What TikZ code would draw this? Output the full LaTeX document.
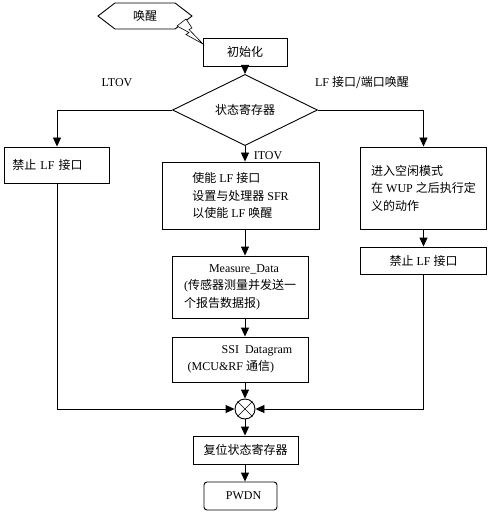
\documentclass[tikz,border=0pt]{standalone}
\usepackage{fontspec}
\setmainfont{Liberation Serif}
\newfontfamily\cjk{Noto Sans CJK SC}
\newcommand{\zh}[1]{{\cjk #1}}
\usetikzlibrary{arrows.meta,shapes.geometric,shapes.symbols}
\tikzset{
	box/.style={draw, line width=0.9pt, inner sep=0pt, align=left},
	arr/.style={-{Triangle[length=9pt,width=8pt]}, line width=0.9pt},
	ln/.style={line width=0.9pt}
}

\begin{document}
\begin{tikzpicture}[x=1pt, y=-1pt, every node/.style={font=\fontsize{12}{17.5}\selectfont}]
        \useasboundingbox (0,0) rectangle (491,513);

        \node[box, signal, signal to=west and east, signal pointer angle=75, minimum width=94pt, minimum height=26pt] (wake) at (145,16) {\zh{唤醒}};
        \node[box, minimum width=84pt, minimum height=28pt] (init) at (245,52) {\zh{初始化}};
        \draw[line width=0.6pt, fill=white] (177,26) -- (186,19) -- (192,28) -- (189,29.5) -- (203,44) -- (186,34.5) -- (189,32.5) -- cycle;

        \node[box, diamond, minimum width=145pt, minimum height=53pt] (state) at (245,110) {\zh{状态寄存器}};
        \node[inner sep=0pt] (ltov) at (117,83) {LTOV};
        \node[inner sep=0pt] (lfwake) at (362,83) {LF \zh{接口/端口唤醒}};

        \node[box, minimum width=105pt, minimum height=36pt, text width=89pt] (stopl) at (57,165) {\zh{禁止} LF \zh{接口}};
        \node[box, minimum width=157pt, minimum height=67pt] (enable) at (240.5,195.5) {\zh{使能} LF \zh{接口}\\\zh{设置与处理器} SFR\\\zh{以使能} LF \zh{唤醒}};
        \node[inner sep=0pt] (itov) at (268,156) {ITOV};
        \node[box, minimum width=136pt, minimum height=62pt] (meas) at (240,287) {\hspace*{25pt}Measure\_Data\\(\zh{传感器测量并发送一}\\\zh{个报告数据报})};
        \node[box, minimum width=136pt, minimum height=45pt] (ssi) at (240,359.5) {\hspace*{34pt}SSI\ \ Datagram\\(MCU\&RF \zh{通信})};

        \node[box, minimum width=126pt, minimum height=82pt] (idle) at (423.5,188) {\zh{进入空闲模式}\\\zh{在} WUP \zh{之后执行定}\\\zh{义的动作}};
        \node[box, minimum width=126pt, minimum height=27pt] (stopr) at (423.5,260.5) {\zh{禁止} LF \zh{接口}};

        \node[draw, circle, line width=0.9pt, minimum size=20pt, inner sep=0pt] (join) at (245,409) {};
        \draw[line width=0.6pt] (join.north west) -- (join.south east) (join.north east) -- (join.south west);

        \node[box, minimum width=105pt, minimum height=28pt] (reset) at (245.5,450) {\zh{复位状态寄存器}};
        \node[box, rounded corners=3pt, minimum width=73pt, minimum height=28pt] (pwdn) at (240.5,496) {\hspace*{6pt}PWDN};

        \draw[arr] (init) -- (state);
        \draw[arr] (state.west) -| (stopl.north);
        \draw[arr] (state.east) -| (idle.north);
        \draw[arr] (state.south) -- (enable.north -| state.south);
        \draw[arr] (enable.south -| state.south) -- (meas.north -| state.south);
        \draw[arr] (meas.south -| state.south) -- (ssi.north -| state.south);
        \draw[arr] (ssi.south -| join) -- (join.north);
        \draw[arr] (idle) -- (stopr);
        \draw[arr] (stopl.south) |- (join.west);
        \draw[arr] (stopr.south) |- (join.east);
        \draw[arr] (join.south) -- (reset.north -| join);
        \draw[arr] (reset.south -| join) -- (pwdn.north -| join);
    \end{tikzpicture}
\end{document}
